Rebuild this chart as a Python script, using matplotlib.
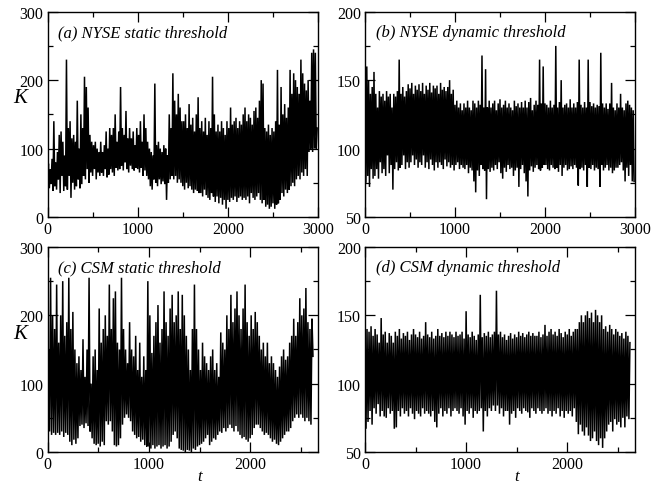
import numpy as np
import matplotlib
matplotlib.use("Agg")
import matplotlib.pyplot as plt
from matplotlib.ticker import MultipleLocator

plt.rcParams['font.family'] = ['Liberation Serif', 'DejaVu Serif']

# time step between the values
dt = 10

# (a) NYSE static threshold, t = 0 ... 2990 (one row = 100 steps of t)
nyse_static = [
    55, 78, 42, 70, 50, 85, 38, 140, 45, 80,
    40, 95, 55, 120, 35, 125, 60, 110, 38, 90,
    45, 230, 40, 130, 60, 140, 28, 115, 50, 120,
    40, 110, 45, 170, 55, 100, 42, 150, 48, 130,
    60, 205, 55, 190, 70, 160, 50, 120, 65, 110,
    60, 105, 70, 110, 55, 100, 65, 95, 60, 110,
    65, 95, 60, 105, 70, 125, 58, 100, 62, 130,
    70, 120, 65, 130, 60, 150, 72, 110, 68, 125,
    70, 190, 75, 130, 68, 120, 80, 155, 70, 115,
    65, 130, 75, 115, 70, 125, 68, 105, 72, 130,
    70, 120, 65, 140, 72, 110, 60, 150, 68, 130,
    60, 110, 55, 100, 45, 95, 40, 90, 55, 195,
    50, 105, 45, 110, 55, 100, 48, 95, 52, 105,
    48, 100, 25, 90, 50, 150, 55, 130, 60, 210,
    55, 170, 60, 150, 50, 180, 55, 160, 50, 140,
    45, 140, 40, 150, 50, 130, 42, 165, 45, 135,
    40, 145, 35, 125, 40, 150, 38, 175, 35, 130,
    35, 140, 30, 125, 40, 145, 32, 120, 28, 140,
    25, 130, 35, 205, 30, 150, 22, 125, 30, 135,
    20, 125, 28, 140, 18, 130, 25, 120, 12, 140,
    25, 130, 22, 160, 28, 135, 25, 140, 30, 145,
    22, 130, 28, 140, 30, 135, 25, 150, 28, 160,
    25, 140, 30, 150, 20, 145, 35, 135, 28, 155,
    25, 160, 30, 145, 35, 170, 25, 200, 20, 195,
    25, 130, 15, 125, 18, 135, 12, 120, 15, 130,
    20, 125, 12, 140, 18, 215, 20, 135, 25, 190,
    35, 150, 30, 165, 40, 145, 35, 160, 40, 215,
    45, 180, 50, 210, 45, 200, 55, 190, 60, 180,
    55, 230, 65, 210, 60, 195, 70, 185, 60, 200,
    95, 170, 100, 240, 95, 245, 100, 240, 100, 130,
]

# (b) NYSE dynamic threshold, t = 0 ... 2990
nyse_dynamic = [
    170, 75, 160, 80, 150, 72, 140, 85, 145, 78,
    156, 80, 140, 85, 130, 78, 142, 90, 138, 82,
    140, 85, 135, 80, 142, 95, 138, 82, 140, 88,
    130, 70, 140, 85, 138, 90, 142, 84, 165, 86,
    140, 88, 145, 95, 138, 85, 142, 90, 147, 86,
    144, 90, 148, 95, 140, 88, 146, 92, 143, 86,
    147, 90, 142, 88, 148, 95, 140, 86, 146, 90,
    143, 85, 148, 92, 141, 88, 146, 84, 144, 90,
    146, 86, 140, 90, 148, 88, 143, 85, 145, 92,
    142, 87, 145, 90, 150, 86, 140, 88, 143, 84,
    132, 88, 135, 90, 130, 85, 133, 88, 128, 86,
    133, 85, 130, 88, 135, 82, 130, 86, 128, 84,
    135, 76, 133, 68, 130, 84, 135, 80, 132, 88,
    168, 85, 130, 84, 158, 63, 130, 85, 135, 83,
    130, 86, 133, 84, 135, 88, 128, 85, 133, 90,
    136, 82, 130, 78, 132, 86, 135, 83, 130, 88,
    133, 85, 130, 86, 128, 80, 135, 84, 131, 86,
    133, 72, 130, 85, 134, 88, 130, 82, 135, 76,
    130, 65, 134, 84, 137, 87, 128, 83, 132, 86,
    135, 88, 132, 85, 165, 84, 133, 86, 160, 88,
    133, 88, 132, 85, 130, 84, 135, 88, 130, 86,
    132, 85, 175, 86, 130, 83, 134, 88, 150, 80,
    130, 86, 132, 88, 133, 84, 130, 85, 136, 87,
    130, 85, 133, 88, 130, 86, 134, 73, 165, 85,
    132, 86, 130, 84, 134, 88, 130, 72, 165, 86,
    134, 85, 131, 88, 133, 84, 130, 86, 132, 85,
    131, 72, 170, 88, 133, 84, 130, 86, 133, 88,
    129, 84, 133, 86, 148, 82, 130, 84, 128, 86,
    133, 86, 130, 88, 140, 90, 130, 84, 128, 76,
    133, 86, 135, 80, 132, 88, 130, 76, 128, 76,
]

# (c) CSM static threshold, t = 0 ... 2620
csm_static = [
    5, 150, 30, 255, 25, 200, 28, 180, 25, 245,
    28, 160, 25, 200, 30, 250, 22, 170, 28, 190,
    25, 255, 15, 180, 10, 205, 18, 150, 12, 130,
    20, 140, 38, 120, 40, 165, 35, 110, 42, 150,
    38, 255, 30, 100, 20, 140, 12, 150, 10, 120,
    12, 210, 8, 160, 15, 180, 10, 200, 45, 170,
    40, 245, 45, 180, 30, 225, 10, 235, 8, 160,
    10, 150, 20, 255, 40, 180, 50, 150, 55, 130,
    50, 190, 45, 150, 30, 140, 25, 170, 20, 120,
    22, 160, 15, 110, 18, 140, 10, 120, 8, 250,
    8, 200, 5, 145, 10, 170, 5, 190, 8, 215,
    10, 160, 5, 180, 8, 235, 10, 190, 5, 170,
    8, 210, 15, 230, 25, 190, 30, 200, 20, 235,
    5, 180, 3, 230, 2, 200, 0, 170, 3, 150,
    2, 120, 0, 180, 5, 245, 3, 180, 8, 150,
    10, 120, 12, 160, 15, 140, 20, 130, 25, 120,
    10, 140, 15, 150, 20, 120, 18, 130, 25, 110,
    30, 175, 28, 160, 35, 150, 30, 200, 35, 180,
    40, 230, 35, 190, 30, 210, 38, 235, 30, 200,
    25, 180, 20, 210, 22, 245, 18, 190, 15, 170,
    20, 200, 25, 180, 35, 205, 40, 190, 40, 170,
    35, 150, 30, 160, 25, 140, 28, 160, 25, 130,
    20, 140, 15, 130, 18, 120, 12, 110, 10, 125,
    15, 140, 20, 150, 25, 135, 30, 140, 30, 160,
    35, 170, 45, 195, 50, 170, 55, 190, 50, 225,
    55, 200, 50, 210, 45, 240, 50, 190, 45, 180,
    40, 195, 140,
]

# (d) CSM dynamic threshold, t = 0 ... 2620
csm_dynamic = [
    145, 67, 140, 72, 138, 80, 142, 70, 135, 82,
    140, 78, 136, 85, 130, 76, 148, 80, 136, 76,
    138, 75, 130, 82, 137, 78, 135, 80, 130, 67,
    138, 68, 135, 80, 140, 76, 133, 82, 137, 78,
    135, 80, 138, 76, 132, 82, 136, 78, 140, 74,
    136, 80, 134, 78, 138, 76, 133, 82, 135, 78,
    145, 80, 136, 78, 134, 76, 138, 80, 133, 72,
    135, 68, 140, 78, 135, 82, 137, 76, 134, 80,
    138, 78, 135, 82, 138, 76, 136, 80, 134, 82,
    138, 80, 135, 78, 136, 82, 138, 76, 133, 70,
    153, 80, 136, 78, 134, 82, 138, 75, 135, 80,
    132, 78, 136, 80, 165, 82, 134, 65, 137, 80,
    135, 76, 138, 82, 134, 80, 136, 84, 138, 80,
    168, 84, 136, 78, 138, 82, 134, 76, 136, 80,
    132, 80, 135, 70, 137, 78, 133, 80, 136, 75,
    134, 82, 138, 80, 135, 78, 137, 82, 134, 80,
    136, 79, 138, 75, 135, 82, 137, 80, 135, 78,
    135, 82, 138, 80, 134, 78, 136, 80, 143, 82,
    135, 78, 138, 80, 140, 76, 136, 80, 138, 78,
    135, 82, 140, 76, 137, 80, 134, 75, 138, 80,
    136, 78, 140, 80, 135, 76, 138, 82, 140, 72,
    140, 63, 145, 70, 150, 65, 145, 62, 150, 68,
    153, 62, 148, 58, 152, 60, 145, 65, 154, 58,
    150, 55, 145, 60, 150, 53, 140, 60, 142, 65,
    138, 70, 143, 72, 140, 65, 136, 74, 140, 70,
    138, 72, 135, 68, 137, 75, 133, 68, 138, 76,
    135, 74, 130,
]

titles = ['(a) NYSE static threshold', '(b) NYSE dynamic threshold',
          '(c) CSM static threshold', '(d) CSM dynamic threshold']
series = [nyse_static, nyse_dynamic, csm_static, csm_dynamic]
xmax = [3000, 3000, 2670, 2670]
ylims = [(0, 300), (50, 200), (0, 300), (50, 200)]
ymajor = [100, 50, 100, 50]

fig = plt.figure(figsize=(6.52, 4.85), dpi=100)
boxes = [
    [0.0729, 0.5505, 0.4149, 0.4233],
    [0.5598, 0.5505, 0.4141, 0.4233],
    [0.0729, 0.0660, 0.4149, 0.4227],
    [0.5598, 0.0660, 0.4141, 0.4227],
]

for i in range(4):
    ax = fig.add_axes(boxes[i])
    y = np.array(series[i])
    t = np.arange(len(y)) * dt
    ax.plot(t, y, color='black', lw=1.1, solid_joinstyle='miter')
    ax.set_xlim(0, xmax[i])
    ax.set_ylim(*ylims[i])
    ax.xaxis.set_major_locator(MultipleLocator(1000))
    ax.xaxis.set_minor_locator(MultipleLocator(500))
    ax.yaxis.set_major_locator(MultipleLocator(ymajor[i]))
    ax.yaxis.set_minor_locator(MultipleLocator(ymajor[i] / 2))
    ax.tick_params(which='both', direction='in', top=True, right=True,
                   labelsize=11.5, width=0.9, pad=3)
    ax.tick_params(which='major', length=7)
    ax.tick_params(which='minor', length=3.5)
    for s in ax.spines.values():
        s.set_linewidth(1.0)
    ax.text(0.039, 0.90, titles[i], transform=ax.transAxes, style='italic',
            fontsize=12, va='center', ha='left')
    if i in (0, 2):
        ax.text(-0.10, 0.58, 'K', transform=ax.transAxes, style='italic',
                fontsize=15, va='center', ha='center')
    if i in (2, 3):
        ax.text(0.562, -0.117, 't', transform=ax.transAxes, style='italic',
                fontsize=12, va='center', ha='center')

fig.savefig('out.png', dpi=100)
